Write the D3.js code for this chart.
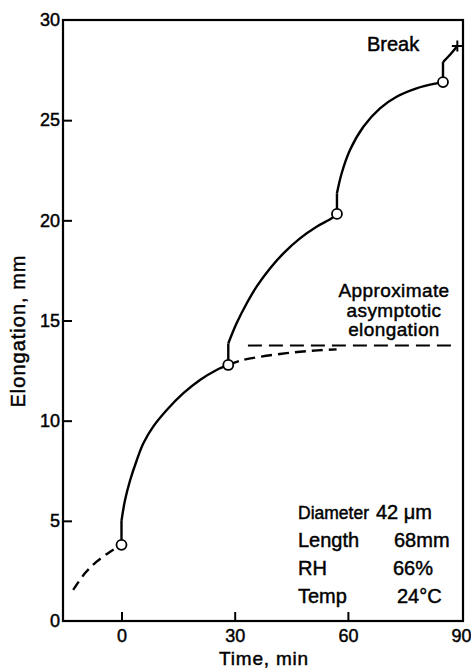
<!DOCTYPE html>
<html>
<head>
<meta charset="utf-8">
<script src="https://cdn.jsdelivr.net/npm/d3@7/dist/d3.min.js"></script>
<style>
  html, body { margin: 0; padding: 0; background: #fff; }
  svg { display: block; font-family: "Liberation Sans", Arial, Helvetica, sans-serif; }
  svg text { fill: #000; stroke: #000; stroke-width: 0.45px; }
</style>
</head>
<body>
<svg id="chart" width="471" height="668"></svg>
<script>
// ---- data ----
const xTicks = [0, 30, 60, 90];
const xTickMarks = [0, 30, 60];
const yTicks = [0, 5, 10, 15, 20, 25, 30];
const yTickMarks = [5, 10, 15, 20, 25];

// dashed initial extrapolation (before t = 0)
const preload = [[-12.8, 1.55], [-9.7, 2.38], [-6.6, 2.96], [-3.0, 3.46], [0, 3.8]];
// each stage: vertical jump [p0 -> p1], then curve from p1 on
const stage1 = [[0, 3.8], [0, 5.0], [0.9, 6.0], [2.25, 7.0], [4.0, 8.0], [5.8, 8.87], [8.4, 9.7], [12.0, 10.53], [16.4, 11.37], [20.8, 12.03], [25.2, 12.53], [28.3, 12.78]];
const stage2 = [[28.3, 12.78], [28.3, 13.85], [30.5, 14.86], [33.2, 15.86], [35.8, 16.69], [39.4, 17.61], [42.9, 18.35], [47.3, 19.1], [51.7, 19.68], [55.7, 20.1], [57.1, 20.32]];
const stage3 = [[57.1, 20.32], [57.1, 21.35], [58.35, 22.35], [60.55, 23.51], [64.1, 24.67], [68.5, 25.59], [72.9, 26.17], [78.2, 26.59], [83.5, 26.84], [85.2, 26.9]];
const stage4 = [[85.2, 26.9], [85.2, 27.9], [87.0, 28.25], [89.0, 28.7]];
// dashed continuation of first stage if load were not raised
const projection = [[28.3, 12.78], [32.0, 13.02], [36.7, 13.19], [42.0, 13.33], [47.3, 13.44], [52.0, 13.51], [57.0, 13.56]];
const asymptote = [[33.5, 13.75], [88.5, 13.75]];
const circles = [[0, 3.8], [28.3, 12.78], [57.1, 20.32], [85.2, 26.9]];
const breakPoint = [89.0, 28.7];

const infoLabels = ["Diameter", "Length", "RH", "Temp"];
const infoValues = ["42 \u03bcm", "68mm", "66%", "24\u00b0C"];
const asymText = ["Approximate", "asymptotic", "elongation"];

// ---- scales ----
const x = d3.scaleLinear().domain([-15.5, 90.5]).range([63, 463]);
const y = d3.scaleLinear().domain([0, 30]).range([621, 20]);

const svg = d3.select("#chart");
const LW = 2.4;

// frame
svg.append("rect")
  .attr("x", x(-15.5)).attr("y", y(30))
  .attr("width", x(90.5) - x(-15.5)).attr("height", y(0) - y(30))
  .attr("fill", "none").attr("stroke", "#000").attr("stroke-width", 2.2);

// x axis
const gx = svg.append("g").attr("transform", `translate(0,${y(0)})`)
  .call(d3.axisBottom(x).tickValues(xTicks).tickSizeInner(-9).tickSizeOuter(0).tickPadding(8));
gx.select(".domain").remove();
gx.selectAll(".tick").filter(d => !xTickMarks.includes(d)).select("line").remove();
gx.selectAll(".tick line").attr("stroke", "#000").attr("stroke-width", 2);
gx.selectAll(".tick text").attr("font-size", 18).attr("fill", "#000").attr("font-family", null);

// y axis
const gy = svg.append("g").attr("transform", `translate(${x(-15.5)},0)`)
  .call(d3.axisLeft(y).tickValues(yTicks).tickSizeInner(-9).tickSizeOuter(0).tickPadding(3));
gy.select(".domain").remove();
gy.selectAll(".tick").filter(d => !yTickMarks.includes(d)).select("line").remove();
gy.selectAll(".tick line").attr("stroke", "#000").attr("stroke-width", 2);
gy.selectAll(".tick text").attr("font-size", 18).attr("fill", "#000").attr("font-family", null);

// axis titles
svg.append("text").attr("x", 264).attr("y", 665).attr("text-anchor", "middle")
  .attr("font-size", 19).attr("letter-spacing", 0.8).text("Time, min");
svg.append("text").attr("transform", "translate(25,331) rotate(-90)").attr("text-anchor", "middle")
  .attr("font-size", 20).attr("letter-spacing", 1).text("Elongation, mm");

// lines
const lineLin = d3.line().x(d => x(d[0])).y(d => y(d[1]));
const lineCurve = d3.line().x(d => x(d[0])).y(d => y(d[1])).curve(d3.curveCatmullRom.alpha(0.5));

svg.append("path").datum(preload).attr("d", lineCurve)
  .attr("fill", "none").attr("stroke", "#000").attr("stroke-width", LW).attr("stroke-dasharray", "10,6");

[stage1, stage2, stage3, stage4].forEach(s => {
  svg.append("path").datum(s.slice(0, 2)).attr("d", lineLin)
    .attr("fill", "none").attr("stroke", "#000").attr("stroke-width", LW);
  svg.append("path").datum(s.slice(1)).attr("d", lineCurve)
    .attr("fill", "none").attr("stroke", "#000").attr("stroke-width", LW);
});

svg.append("path").datum(projection).attr("d", lineCurve)
  .attr("fill", "none").attr("stroke", "#000").attr("stroke-width", LW).attr("stroke-dasharray", "11,6");
svg.append("path").datum(asymptote).attr("d", lineLin)
  .attr("fill", "none").attr("stroke", "#000").attr("stroke-width", 2).attr("stroke-dasharray", "14,7");

// circles
svg.selectAll("circle.pt").data(circles).join("circle").attr("class", "pt")
  .attr("cx", d => x(d[0])).attr("cy", d => y(d[1])).attr("r", 5)
  .attr("fill", "#fff").attr("stroke", "#000").attr("stroke-width", 1.8);

// break "+"
const bx = x(breakPoint[0]), by = y(breakPoint[1]);
svg.append("path").attr("d", `M${bx - 5.5},${by}H${bx + 5.5}M${bx},${by - 5.5}V${by + 5.5}`)
  .attr("stroke", "#000").attr("stroke-width", 2);

// annotations
svg.append("text").attr("x", 367).attr("y", 51).attr("font-size", 20).text("Break");
svg.selectAll("text.asym").data(asymText).join("text").attr("class", "asym")
  .attr("x", 394).attr("y", (d, i) => 297 + i * 19.5).attr("text-anchor", "middle")
  .attr("font-size", 19).attr("letter-spacing", 0.4).text(d => d);

svg.selectAll("text.infoL").data(infoLabels).join("text").attr("class", "infoL")
  .attr("x", 298).attr("y", (d, i) => 519 + i * 28)
  .attr("font-size", d => d === "Diameter" ? 17.5 : 20).text(d => d);
svg.selectAll("text.infoV").data(infoValues).join("text").attr("class", "infoV")
  .attr("x", (d, i) => [376, 394, 393, 397][i]).attr("y", (d, i) => 519 + i * 28)
  .attr("font-size", 20).text(d => d);
</script>
</body>
</html>
